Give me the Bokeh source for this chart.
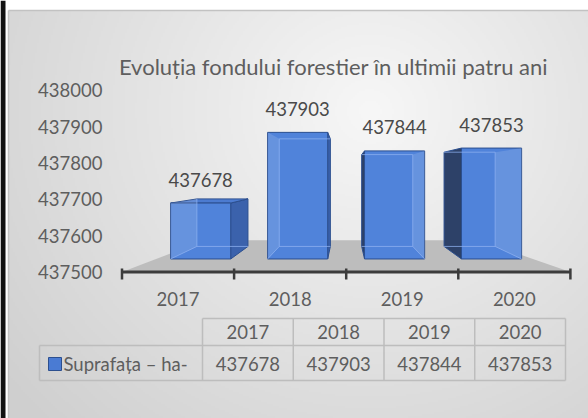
import numpy as np
from bokeh.plotting import figure
from bokeh.models import Range1d, ColumnDataSource
from bokeh.embed import file_html
from bokeh.resources import INLINE
from bokeh.core.properties import value

# ---------------- data ----------------
TITLE = "Evoluția fondului forestier în ultimii patru ani"
years = ["2017", "2018", "2019", "2020"]
surface = [437678, 437903, 437844, 437853]
y_ticks = [437500, 437600, 437700, 437800, 437900, 438000]
y_tick_labels = ["437500", "437600", "437700", "437800", "437900", "438000"]
series_label = "Suprafața – ha-"
y_min = 437500

# ---------------- layout helpers (page pixels -> data units) ----------------
W, H = 588, 418
X_A, X_SCALE = 121.5, 112.1    # page px of category edge 0.5, px per category
Y_A, Y_SCALE = 271.5, 0.3632   # page px of y_min, px per value unit


def ux(px):
    return 0.5 + (px - X_A) / X_SCALE


def vy(py):
    return y_min + (Y_A - py) / Y_SCALE


FONT = value("Lato")
GREY_TXT = "#5e5e5e"

p = figure(width=W, height=H,
           x_range=Range1d(ux(0), ux(W)), y_range=Range1d(vy(H), vy(0)),
           x_axis_location=None, y_axis_location=None,
           toolbar_location=None, output_backend="svg", min_border=0)
p.grid.visible = False
p.outline_line_color = None
p.background_fill_color = "white"
p.border_fill_color = "white"

# ---------------- background gradient (chart area) ----------------
CA_L, CA_T = 8, 10
ny, nx = (H - CA_T) // 2, (W - CA_L) // 2
gx = np.linspace(CA_L, W, nx)
gy = np.linspace(H, CA_T, ny)
GX, GY = np.meshgrid(gx, gy)
t = np.sqrt(((GX - 370) / 330.0) ** 2 + ((GY - 110) / 310.0) ** 2)
t = np.clip(t, 0, 1.4)
g = np.clip(247 - 28 * t, 0, 255).astype(np.uint8)
img = np.empty((ny, nx), dtype=np.uint32)
view = img.view(dtype=np.uint8).reshape((ny, nx, 4))
view[..., 0] = g
view[..., 1] = g
view[..., 2] = g
view[..., 3] = 255
p.image_rgba(image=[img], x=ux(CA_L), y=vy(H), dw=ux(W) - ux(CA_L), dh=vy(CA_T) - vy(H))
# chart border (top / left) and dark photo edge at the far left
p.segment(x0=[ux(CA_L), ux(CA_L)], y0=[vy(CA_T), vy(CA_T)], x1=[ux(W), ux(CA_L)], y1=[vy(CA_T), vy(H)],
          line_color="#c2c2c2", line_width=1.5)
p.quad(left=[ux(0)], right=[ux(5)], bottom=[vy(H)], top=[vy(0)], fill_color="#111111", line_color=None)

# ---------------- 3-D projection ----------------
n = len(years)
x_lo, x_hi = 0.5, n + 0.5
VX, VY = ux(345), vy(175)
S_FRONT, S_BACK = 0.865, 0.735
FVX, FVY, S_FLOOR = ux(335), vy(190), 0.61
HW = 0.31


def proj(u, v, s, cx=VX, cy=VY):
    return (cx + s * (u - cx), cy + s * (v - cy))


# floor
floor = [proj(x_lo, y_min, 1, FVX, FVY), proj(x_hi, y_min, 1, FVX, FVY),
         proj(x_hi, y_min, S_FLOOR, FVX, FVY), proj(x_lo, y_min, S_FLOOR, FVX, FVY)]
p.patch([q[0] for q in floor], [q[1] for q in floor], fill_color="#bdbdbd", line_color=None)

# axis line + ticks
p.segment(x0=[x_lo], y0=[y_min], x1=[x_hi], y1=[y_min], line_width=3, line_color="#3c3c3c")
tick_u = [x_lo + k for k in range(n + 1)]
p.segment(x0=tick_u, y0=[vy(268)] * len(tick_u), x1=tick_u, y1=[vy(279)] * len(tick_u),
          line_width=2.5, line_color="#3c3c3c")

face_xs, face_ys, face_col = [], [], []
over_xs, over_ys = [], []
inner_xs, inner_ys = [], []
lab_x, lab_y = [], []

for i, val in enumerate(surface):
    c = i + 1
    flb = proj(c - HW, y_min, S_FRONT); frb = proj(c + HW, y_min, S_FRONT)
    flt = proj(c - HW, val, S_FRONT); frt = proj(c + HW, val, S_FRONT)
    blb = proj(c - HW, y_min, S_BACK); brb = proj(c + HW, y_min, S_BACK)
    blt = proj(c - HW, val, S_BACK); brt = proj(c + HW, val, S_BACK)

    left_vis = blb[0] < flb[0]
    right_vis = brb[0] > frb[0]
    top_vis = blt[1] > flt[1]

    left_face = [flb, flt, blt, blb]
    right_face = [frb, frt, brt, brb]
    top_face = [flt, frt, brt, blt]
    front_face = [flb, frb, frt, flt]

    if left_vis:
        face_xs.append([q[0] for q in left_face]); face_ys.append([q[1] for q in left_face])
        face_col.append("#2d4168")
    else:
        over_xs.append([q[0] for q in left_face]); over_ys.append([q[1] for q in left_face])
    if right_vis:
        face_xs.append([q[0] for q in right_face]); face_ys.append([q[1] for q in right_face])
        face_col.append("#3b62ac")
    else:
        over_xs.append([q[0] for q in right_face]); over_ys.append([q[1] for q in right_face])
    if top_vis:
        face_xs.append([q[0] for q in top_face]); face_ys.append([q[1] for q in top_face])
        face_col.append("#4c7bd0")
    face_xs.append([q[0] for q in front_face]); face_ys.append([q[1] for q in front_face])
    face_col.append("#5083da")

    # hidden edges seen through the translucent front
    edges = [[blb, brb]]
    if not top_vis:
        edges.append([blt, brt])
    if not left_vis:
        edges += [[blb, blt], [flb, blb]]
    if not right_vis:
        edges += [[brb, brt], [frb, brb]]
    for e in edges:
        inner_xs.append([q[0] for q in e]); inner_ys.append([q[1] for q in e])

    lab_x.append(proj(c, val, S_FRONT)[0])
    lab_y.append(flt[1] + 23.5 / Y_SCALE)

faces = ColumnDataSource(dict(xs=face_xs, ys=face_ys, color=face_col))
p.patches("xs", "ys", source=faces, fill_color="color", line_color="#2c4f8f", line_width=1)
p.patches(over_xs, over_ys, fill_color="white", fill_alpha=0.13, line_color=None)
p.multi_line(inner_xs, inner_ys, line_color="#8fb2f0", line_alpha=0.75, line_width=1)

# value labels
p.text(x=lab_x, y=lab_y, text=[str(v) for v in surface], text_font=FONT,
       text_font_size=value("18.5px"), text_color="#4a4a4a",
       text_align="center", text_baseline="middle")

# y tick labels
p.text(x=[ux(102)] * len(y_ticks), y=y_ticks, text=y_tick_labels, text_font=FONT,
       text_font_size=value("18.5px"), text_color=GREY_TXT,
       text_align="right", text_baseline="middle")

# category labels
cats_u = [k + 1 for k in range(n)]
p.text(x=cats_u, y=[vy(298)] * n, text=years, text_font=FONT,
       text_font_size=value("18.5px"), text_color=GREY_TXT,
       text_align="center", text_baseline="middle")

# title
p.text(x=[ux(333)], y=[vy(66)], text=[TITLE], text_font=FONT,
       text_font_size=value("22px"), text_color=GREY_TXT,
       text_align="center", text_baseline="middle")

# ---------------- data table ----------------
T_LEFT, T_COL0, T_RIGHT = 39, 202, 565
T_TOP, T_MID, T_BOT = 318, 345, 380
col_w = (T_RIGHT - T_COL0) / n
col_edges = [T_COL0 + k * col_w for k in range(n + 1)]
col_cent = [T_COL0 + (k + 0.5) * col_w for k in range(n)]

hx0 = [ux(T_COL0), ux(T_LEFT), ux(T_LEFT)]
hx1 = [ux(T_RIGHT)] * 3
hy = [vy(T_TOP), vy(T_MID), vy(T_BOT)]
p.segment(x0=hx0, y0=hy, x1=hx1, y1=hy, line_color="#bdbdbd", line_width=1.5)
vx_ = [ux(T_LEFT)] + [ux(e) for e in col_edges]
vy0 = [vy(T_MID)] + [vy(T_TOP)] * len(col_edges)
vy1 = [vy(T_BOT)] * len(vx_)
p.segment(x0=vx_, y0=vy0, x1=vx_, y1=vy1, line_color="#bdbdbd", line_width=1.5)

p.text(x=[ux(cx) for cx in col_cent], y=[vy(331.5)] * n, text=years, text_font=FONT,
       text_font_size=value("18.5px"), text_color=GREY_TXT,
       text_align="center", text_baseline="middle")
p.text(x=[ux(cx) for cx in col_cent], y=[vy(363)] * n, text=[str(v) for v in surface],
       text_font=FONT, text_font_size=value("18.5px"), text_color=GREY_TXT,
       text_align="center", text_baseline="middle")

# legend key + series name
p.scatter(x=[ux(54.5)], y=[vy(363.5)], marker="square", size=13,
          fill_color="#4a7bd3", line_color="#2c4f8f", line_width=1)
p.text(x=[ux(63)], y=[vy(363)], text=[series_label], text_font=FONT,
       text_font_size=value("18.5px"), text_color=GREY_TXT,
       text_align="left", text_baseline="middle")

open("out.html", "w").write(file_html(p, INLINE))
